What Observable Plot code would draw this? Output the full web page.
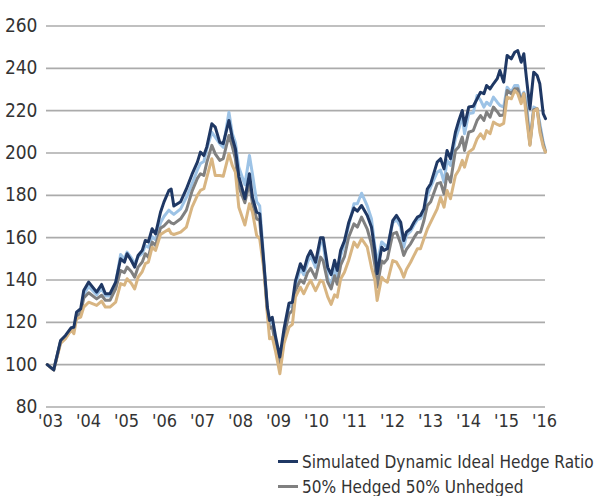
<!DOCTYPE html>
<html>
<head>
<meta charset="utf-8">
<script src="https://cdn.jsdelivr.net/npm/d3@7"></script>
<script src="https://cdn.jsdelivr.net/npm/@observablehq/plot@0.6"></script>
<style>
  html, body { margin: 0; padding: 0; background: #fff; }
  body { width: 595px; font-family: "DejaVu Sans Condensed", "DejaVu Sans", sans-serif; font-stretch: condensed; color: #333; overflow: hidden; }
  svg text { font-stretch: condensed; }
  #legend { margin-top: 9px; padding-left: 278px; }
  .row { display: flex; align-items: center; height: 25px; font-size: 19px; white-space: nowrap; }
  .sw { width: 20px; height: 3px; margin-right: 4px; flex: none; }
</style>
</head>
<body>
<div id="chart"></div>
<div id="legend"></div>
<script>
const seriesNames = ["Simulated Dynamic Ideal Hedge Ratio", "50% Hedged 50% Unhedged", "100% Hedged", "Unhedged"];
const seriesColors = ["#1f3864", "#808080", "#9dc3e6", "#d8b582"];
const legendShown = [0, 1];
const yTicks = [80, 100, 120, 140, 160, 180, 200, 220, 240, 260];
const xTicks = [2003, 2004, 2005, 2006, 2007, 2008, 2009, 2010, 2011, 2012, 2013, 2014, 2015, 2016];

const dates = [2003.02,2003.19,2003.37,2003.5,2003.65,2003.72,2003.79,2003.9,2003.98,2004.11,2004.32,2004.45,2004.55,2004.67,2004.82,2004.95,2005.05,2005.12,2005.23,2005.32,2005.41,2005.52,2005.6,2005.68,2005.78,2005.87,2006.0,2006.09,2006.22,2006.28,2006.35,2006.53,2006.68,2006.83,2006.97,2007.05,2007.14,2007.22,2007.35,2007.44,2007.56,2007.65,2007.8,2007.89,2007.97,2008.06,2008.22,2008.34,2008.42,2008.53,2008.61,2008.72,2008.81,2008.87,2008.94,2009.03,2009.14,2009.25,2009.38,2009.47,2009.55,2009.68,2009.77,2009.87,2009.95,2010.08,2010.21,2010.28,2010.4,2010.49,2010.58,2010.65,2010.74,2010.84,2010.95,2011.09,2011.18,2011.29,2011.44,2011.55,2011.64,2011.7,2011.82,2011.88,2011.97,2012.11,2012.21,2012.32,2012.4,2012.47,2012.58,2012.67,2012.76,2012.84,2012.93,2013.02,2013.11,2013.28,2013.37,2013.46,2013.54,2013.63,2013.76,2013.85,2013.94,2014.0,2014.11,2014.23,2014.33,2014.42,2014.51,2014.58,2014.67,2014.76,2014.86,2014.93,2015.03,2015.12,2015.23,2015.32,2015.4,2015.49,2015.56,2015.63,2015.72,2015.82,2015.91,2015.98,2016.07,2016.13];

const simulated = [100,97.5,111.4,113.8,117.5,117.7,124.8,126.4,135,139,134.3,137.9,133.5,133.5,139,150,148.4,152.4,149.2,146.1,151.6,154,158.7,158,164.2,161.8,172,176.8,182.3,183,175,177,183,190,195.7,200.4,198.8,203,213.8,212.2,205,204.4,215.4,207,202,189,178.4,190.2,179,172,171.3,147.7,127.2,120.9,122.4,113,103.6,117,129,129.5,139.5,147.7,144.5,151,153.8,148.4,160,160,146,142.5,149.3,144.5,154,158.5,167,174,172.5,175.2,170.5,165,154,143,155.5,154,154.8,168,170.5,167.3,158.7,162.6,164.2,167.3,169.7,170.5,173.6,183,185.5,195.7,197.3,192.5,201.2,197.3,209.8,215.4,220.1,213,221.7,222.1,225.6,228.7,228,231.9,230.3,232.7,235.1,239,233.5,246.1,244.5,247.6,248.4,242.9,246.9,235.1,220.9,238.2,236.6,232.7,218.6,216.2];

const hedged50 = [100,97.5,110.8,112.8,116.5,116.5,122.8,124.5,131.5,134,131.1,132.8,130.4,130.4,135.8,144.5,143.5,146.1,144,141.3,146.1,148.5,152.4,150.8,157.9,156.3,164.5,165.5,168,167,166.5,168.9,173,182,188,190.2,189.4,195.7,203.6,199.6,196.5,197.3,208.3,203,197.3,183.9,176.5,186,176,168.9,168.1,146,126,117,118,109,100,113.5,124,125.5,135,140,138.5,143.5,145.5,141,150.8,149,139,135.8,142,138,147,151,160.2,166.5,165,169.7,164,157,147,136.6,149,148,150,161.8,162.5,157.1,151.6,154.5,157.1,160,162.5,162.6,168,175.2,177,185.5,186,180.7,190.2,186.2,201.2,203,207.5,201.2,209.8,210.6,215.4,217.7,215.4,219.3,216.9,221.7,219.5,217.7,218,229.5,228,230.3,230.3,224.5,228,220,204,220.5,220.9,212,204,200.5];

const fullyHedged = [100,97.5,111,113.2,117,117,123.5,125,133,137,133,136,132.5,132.5,138.5,152,150,153.2,150.5,147.7,151,152.5,156.3,155.5,160.5,159,167,170,173,172,171,173.6,179,185.5,192,195,196,202,209.8,207.5,204.4,202.7,219.3,209.1,205,193.3,185,198.8,190,177,175,149,127,119.3,121,111,101.6,115,127.5,127.5,137,145.5,142.5,148.5,151.5,146,157.5,157.5,141,137,146,140,151.5,157,165.5,176,176,181,175,169,156,148,158,157,155,167,168.5,165,155.5,161,163,166,168.5,169,172,180,184,190.9,191.9,186.2,196.5,194.1,206.7,211.4,217.5,209.1,218.6,219,227.2,225,221.7,224,222.5,226.4,224,222.5,221.7,231.1,228.7,231.9,231.9,225.6,228.7,224.8,205,221.7,220.9,214,205.1,201];

const unhedged = [100,97.5,110,112.3,116.5,114.6,121.7,122.5,127.2,129.5,128,130,127.2,127.2,129.5,138.3,137.6,140.6,138.5,135.8,141.3,144,147.7,148.4,155.5,154,161.5,162.6,164,162,161.5,162.6,165,174.4,180,182.3,183.1,188.6,197.3,189.4,189.4,189,199.6,194,191,174.4,166,176,172,161,159.5,145,124,112.2,113,106,95.7,110,117.7,119,131.9,136.6,133.5,137.5,139.8,135,139.8,139,132,128.5,133,131.9,140.5,143.7,149.2,157.9,155.5,159.5,155.5,146,140,130.3,141.3,140,139,149.2,148.4,145,141.3,145,148.4,151.6,154.8,154.8,159.5,164,167.3,173.6,179.1,174.4,182.3,178.4,189.4,192,196.5,193.3,200.4,202,206.7,209.1,206.7,210.6,209.1,214.6,213.5,213,214,226.4,225.6,229.5,228,223.3,228,216.2,203.6,219.7,220.9,210,203,200.4];

const valuesBySeries = [simulated, hedged50, fullyHedged, unhedged];
const tables = valuesBySeries.map((vals, i) => dates.map((d, j) => ({date: d, value: vals[j], series: seriesNames[i]})));
const drawOrder = [2, 1, 3, 0];

const font = '"DejaVu Sans Condensed", "DejaVu Sans", sans-serif';

const chart = Plot.plot({
  width: 595,
  height: 440,
  marginTop: 25.5,
  marginBottom: 33.5,
  marginLeft: 46,
  marginRight: 50,
  style: {fontFamily: font, fontSize: "19px", color: "#333", background: "#fff"},
  x: {domain: [2003, 2016.13]},
  y: {domain: [80, 260]},
  marks: [
    Plot.ruleY(yTicks, {stroke: "#ababab", strokeWidth: 1.6}),
    Plot.axisY(yTicks, {tickSize: 0, tickPadding: 9, fontSize: 19, label: null, fill: "#333"}),
    Plot.axisX(xTicks, {tickSize: 0, tickPadding: 7, fontSize: 18, label: null, fill: "#333", dx: 4, tickFormat: d => "'" + String(d).slice(2)}),
    ...drawOrder.map(i => Plot.line(tables[i], {x: "date", y: "value", stroke: seriesColors[i], strokeWidth: 3, strokeLinejoin: "round"}))
  ]
});
document.getElementById("chart").appendChild(chart);

const legend = document.getElementById("legend");
legendShown.forEach(i => {
  const row = document.createElement("div");
  row.className = "row";
  const sw = document.createElement("span");
  sw.className = "sw";
  sw.style.background = seriesColors[i];
  const label = document.createElement("span");
  label.textContent = seriesNames[i];
  row.appendChild(sw);
  row.appendChild(label);
  legend.appendChild(row);
});
// fit the legend text into the space to the right edge
const first = legend.querySelector(".row span:last-child");
const w = first.getBoundingClientRect().width;
if (w > 292) {
  const fs = 19 * 292 / w;
  legend.querySelectorAll(".row").forEach(r => r.style.fontSize = fs + "px");
}
</script>
</body>
</html>
